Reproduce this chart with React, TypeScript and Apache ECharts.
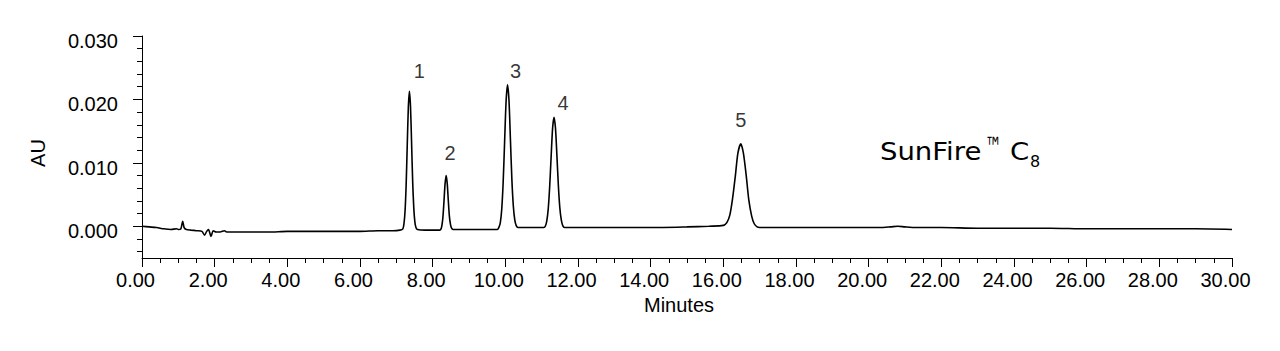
import React, { useEffect, useRef } from "react";
import * as echarts from "echarts";

// ---- Data (time in minutes, AU) ----
const baselineStart: [number, number][] = [
  [0, 0.0], [0.2, -0.0001], [0.4, -0.0002], [0.6, -0.0004], [0.8, -0.0005],
  [0.95, -0.0004], [1.0, -0.0005], [1.07, -0.0004], [1.12, 0.0008], [1.16, -0.0002],
  [1.22, -0.0005], [1.35, -0.0006], [1.5, -0.0007], [1.65, -0.0008], [1.72, -0.0014],
  [1.78, -0.0008], [1.83, -0.0005], [1.9, -0.0016], [1.96, -0.0007], [2.04, -0.0009],
  [2.15, -0.0009], [2.27, -0.0007], [2.33, -0.0009], [2.6, -0.0009], [3.0, -0.0009],
  [3.5, -0.0009], [4.0, -0.0008], [4.5, -0.0008], [5.0, -0.0008], [5.5, -0.0008],
  [6.0, -0.0008], [6.5, -0.0007], [6.9, -0.0007], [7.1, -0.0006],
];
const peak1: [number, number][] = [
  [7.18, -0.0004], [7.21, 0.0004], [7.24, 0.0024], [7.27, 0.0065], [7.3, 0.0127],
  [7.33, 0.0187], [7.36, 0.0213], [7.39, 0.0189], [7.42, 0.0131], [7.45, 0.007],
  [7.48, 0.0029], [7.51, 0.0007], [7.54, -0.0002], [7.58, -0.0005], [7.8, -0.0006],
  [8.0, -0.0006], [8.18, -0.0006],
];
const peak2: [number, number][] = [
  [8.22, -0.0005], [8.25, 0.0], [8.28, 0.0013], [8.31, 0.0038], [8.34, 0.0066],
  [8.37, 0.008], [8.4, 0.0068], [8.43, 0.0041], [8.46, 0.0016], [8.49, 0.0003],
  [8.52, -0.0003], [8.56, -0.0005], [8.8, -0.0005], [9.2, -0.0005], [9.6, -0.0005],
  [9.78, -0.0005],
];
const peak3: [number, number][] = [
  [9.82, -0.0002], [9.86, 0.0005], [9.9, 0.0026], [9.94, 0.0069], [9.98, 0.0133],
  [10.02, 0.0196], [10.06, 0.0223], [10.1, 0.0199], [10.14, 0.0137], [10.18, 0.0074],
  [10.22, 0.0032], [10.26, 0.001], [10.3, 0.0001], [10.35, -0.0002], [10.6, -0.0002],
  [10.9, -0.0002], [11.06, -0.0002],
];
const peak4: [number, number][] = [
  [11.1, 0.0], [11.14, 0.0008], [11.18, 0.0027], [11.22, 0.0062], [11.26, 0.0109],
  [11.3, 0.0154], [11.34, 0.0172], [11.38, 0.0155], [11.42, 0.0111], [11.46, 0.0064],
  [11.5, 0.0029], [11.54, 0.001], [11.58, 0.0001], [11.63, -0.0002], [11.8, -0.0002],
];
const baselineMiddle: [number, number][] = [
  [12.0, -0.0002], [13.0, -0.0002], [14.0, -0.0002], [15.0, -0.0001], [15.6, 0.0],
  [15.95, 0.0001],
];
const peak5: [number, number][] = [
  [16.03, 0.0002], [16.1, 0.0006], [16.18, 0.0018], [16.25, 0.0042], [16.33, 0.0079],
  [16.4, 0.0115], [16.48, 0.013], [16.55, 0.0116], [16.63, 0.008], [16.7, 0.0042],
  [16.78, 0.0016], [16.85, 0.0004], [16.93, -0.0001], [17.0, -0.0002],
];
const baselineEnd: [number, number][] = [
  [17.5, -0.0002], [18.5, -0.0002], [19.5, -0.0002], [20.3, -0.0002], [20.6, -0.0001],
  [20.8, 0.0], [21.0, -0.0001], [21.3, -0.0002], [22.0, -0.0002], [23.0, -0.0003],
  [24.0, -0.0003], [25.0, -0.0003], [26.0, -0.0004], [27.0, -0.0004], [28.0, -0.0004],
  [29.0, -0.0004], [30.0, -0.0005],
];

const peakNames = ["1", "2", "3", "4", "5"];
const peakTimes = [7.36, 8.37, 10.06, 11.34, 16.48];
const peakApex = [0.0213, 0.008, 0.0223, 0.0172, 0.013];

const yLabelValues = [0, 0.01, 0.02, 0.03];
const yMinorTickValues = [
  -0.004, -0.002, 0.002, 0.004, 0.006, 0.008, 0.012, 0.014, 0.016, 0.018,
  0.022, 0.024, 0.026, 0.028,
];

const xAxisName = "Minutes";
const yAxisName = "AU";
const columnName = "SunFire";
const trademark = "™";
const phaseLetter = "C";
const phaseSub = "8";

// ---- styles ----
const FONT = "'Liberation Sans', Arial, sans-serif";
const BRAND_FONT = "'DejaVu Sans', sans-serif";
const labelOffsets: [number, number][] = [
  [10, -20], [4, -23], [8, -14], [9, -14], [0, -24],
];

export default function App() {
  const ref = useRef<HTMLDivElement>(null);

  useEffect(() => {
    if (!ref.current) return;
    const chart = echarts.init(ref.current, undefined, { renderer: "svg" });

    const trace = [
      ...baselineStart, ...peak1, ...peak2, ...peak3, ...peak4,
      ...baselineMiddle, ...peak5, ...baselineEnd,
    ];
    const peakLabelData = peakNames.map((n, i) => ({
      value: [peakTimes[i], peakApex[i]],
      name: n,
      label: { offset: labelOffsets[i] },
    }));

    const yMin = -0.005;
    const yMax = 0.03;

    chart.setOption({
      animation: false,
      backgroundColor: "#fff",
      grid: {
        left: 142, right: 48, top: 36, bottom: 93,
        containLabel: false, outerBoundsMode: "none",
      },
      xAxis: {
        type: "value",
        min: 0, max: 30, interval: 2,
        name: xAxisName,
        nameLocation: "middle",
        nameGap: 37,
        nameTextStyle: { fontFamily: FONT, fontSize: 20, color: "#000", padding: [0, 16, 0, 0] },
        axisLine: { show: true, onZero: false, lineStyle: { color: "#000", width: 1 } },
        axisTick: { show: true, length: 9, lineStyle: { color: "#000", width: 1 } },
        minorTick: { show: true, splitNumber: 4, length: 5, lineStyle: { color: "#000", width: 1 } },
        splitLine: { show: false },
        minorSplitLine: { show: false },
        axisLabel: {
          fontFamily: FONT, fontSize: 20, color: "#000", margin: 12,
          padding: [0, 13, 0, 0],
          formatter: (v: number) => v.toFixed(2),
        },
      },
      yAxis: [
        {
          type: "value",
          min: yMin, max: yMax,
          axisLine: { show: true, onZero: false, lineStyle: { color: "#000", width: 1 } },
          axisTick: { show: true, length: 9, customValues: yLabelValues, lineStyle: { color: "#000", width: 1 } },
          splitLine: { show: false },
          axisLabel: {
            fontFamily: FONT, fontSize: 20, color: "#000", margin: 24,
            customValues: yLabelValues,
            verticalAlign: "top",
            lineHeight: 10,
            formatter: (v: number) => v.toFixed(3),
          },
        },
        {
          type: "value",
          min: yMin, max: yMax,
          position: "left",
          offset: 0,
          axisLine: { show: false },
          axisTick: { show: true, length: 5, customValues: yMinorTickValues, lineStyle: { color: "#000", width: 1 } },
          axisLabel: { show: false },
          splitLine: { show: false },
        },
      ],
      series: [
        {
          type: "line",
          data: trace,
          yAxisIndex: 0,
          showSymbol: false,
          symbol: "none",
          smooth: 0.25,
          lineStyle: { color: "#000", width: 1.6 },
          z: 2,
        },
        {
          type: "scatter",
          data: peakLabelData,
          yAxisIndex: 0,
          symbolSize: 0,
          silent: true,
          label: {
            show: true,
            position: "inside",
            formatter: (p: any) => p.name,
            fontFamily: FONT,
            fontSize: 20,
            color: "#000",
          },
          z: 3,
        },
      ],
      graphic: [
        {
          type: "text",
          x: 38, y: 153,
          rotation: Math.PI / 2,
          style: { text: yAxisName, font: `20px ${FONT}`, fill: "#000", align: "center", verticalAlign: "middle" },
        },
        {
          type: "text",
          x: 880, y: 151, scaleX: 1.1,
          style: { text: columnName, font: `25px ${BRAND_FONT}`, fill: "#000", align: "left", verticalAlign: "middle" },
        },
        {
          type: "text",
          x: 985, y: 147, scaleX: 0.6,
          style: { text: trademark, font: `28px ${BRAND_FONT}`, fill: "#000", align: "left", verticalAlign: "middle" },
        },
        {
          type: "text",
          x: 1010, y: 151, scaleX: 1.1,
          style: { text: phaseLetter, font: `25px ${BRAND_FONT}`, fill: "#000", align: "left", verticalAlign: "middle" },
        },
        {
          type: "text",
          x: 1030, y: 161,
          style: { text: phaseSub, font: `16px ${BRAND_FONT}`, fill: "#000", align: "left", verticalAlign: "middle" },
        },
      ],
    });

    return () => chart.dispose();
  }, []);

  return (
    <div
      ref={ref}
      style={{ position: "fixed", left: 0, top: 0, width: 1280, height: 351 }}
    />
  );
}
